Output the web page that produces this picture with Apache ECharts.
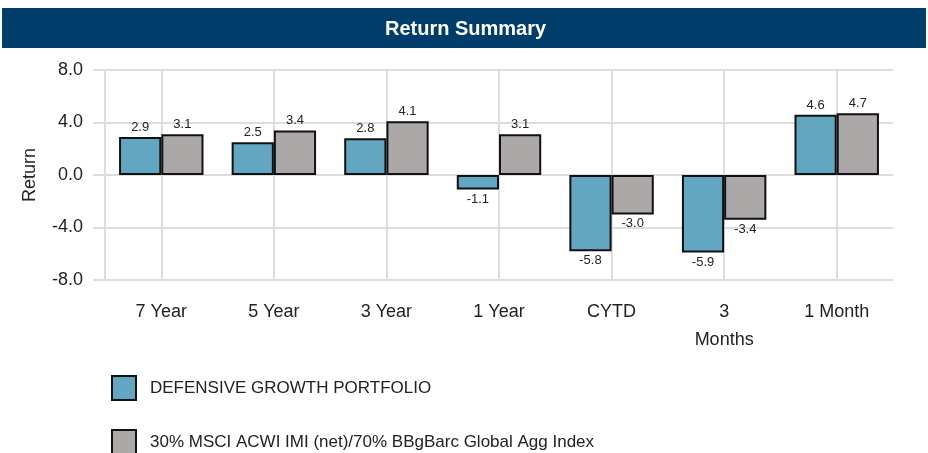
<!DOCTYPE html>
<html><head><meta charset="utf-8">
<script src="https://cdn.jsdelivr.net/npm/echarts@6/dist/echarts.min.js"></script>
<style>html,body{margin:0;padding:0;background:#fff}#c{width:928px;height:453px}</style>
</head><body><div id="c"></div>
<script>
const categories = ['7 Year', '5 Year', '3 Year', '1 Year', 'CYTD', '3\nMonths', '1 Month'];
const portfolio = [2.9, 2.5, 2.8, -1.1, -5.8, -5.9, 4.6];
const benchmark = [3.1, 3.4, 4.1, 3.1, -3.0, -3.4, 4.7];
const seriesNames = ['DEFENSIVE GROWTH PORTFOLIO', '30% MSCI ACWI IMI (net)/70% BBgBarc Global Agg Index'];
const yTicks = [-8, -4, 0, 4, 8];

const FONT = 'Liberation Sans, Arial, sans-serif';
const chart = echarts.init(document.getElementById('c'), null, {renderer: 'canvas'});
const labelCfg = {
  show: true, fontSize: 13, color: '#222', fontFamily: FONT,
  formatter: p => p.value.toFixed(1), distance: 3
};
function mk(name, data, color) {
  return {
    name, type: 'bar', data: data.map(v => ({value: v, label: {position: v >= 0 ? 'top' : 'bottom'}})),
    barGap: '0%', barCategoryGap: '25%',
    itemStyle: {color, borderColor: '#111', borderWidth: 2},
    label: labelCfg
  };
}
function leg(name, top) {
  return {
    left: 106, top, itemWidth: 24, itemHeight: 24, icon: 'rect', itemGap: 0,
    textStyle: {fontSize: 17, color: '#222', fontFamily: FONT, padding: [0, 0, 0, 9]},
    data: [{name, itemStyle: {borderColor: '#111', borderWidth: 2}}]
  };
}
chart.setOption({
  animation: false,
  graphic: [
    {type: 'rect', shape: {x: 2, y: 8, width: 924, height: 40}, style: {fill: '#003d6a'}},
    {type: 'text', left: 385, top: 19, style: {text: 'Return Summary', fill: '#fff', font: 'bold 20px ' + FONT}}
  ],
  grid: {left: 105, right: 35, top: 70, height: 210},
  legend: [leg(seriesNames[0], 370), leg(seriesNames[1], 424)],
  xAxis: {
    type: 'category', data: categories,
    axisLine: {show: false},
    axisTick: {show: true, alignWithLabel: true, length: 12, lineStyle: {color: '#ddd', width: 2}},
    splitLine: {show: true, alignWithLabel: true, lineStyle: {color: '#ddd', width: 2}},
    axisLabel: {fontSize: 18, color: '#222', fontFamily: FONT, margin: 18, lineHeight: 28}
  },
  yAxis: {
    type: 'value', min: -8, max: 8, interval: 4,
    name: 'Return', nameLocation: 'middle', nameGap: 66, nameRotate: 90,
    nameTextStyle: {fontSize: 18, color: '#222', fontFamily: FONT},
    axisLine: {show: true, lineStyle: {color: '#ddd', width: 2}},
    axisTick: {show: true, length: 12, lineStyle: {color: '#ddd', width: 2}},
    splitLine: {show: true, lineStyle: {color: '#ddd', width: 2}},
    axisLabel: {fontSize: 18, color: '#222', fontFamily: FONT, margin: 22, formatter: v => v.toFixed(1)}
  },
  series: [mk(seriesNames[0], portfolio, '#63a6c2'), mk(seriesNames[1], benchmark, '#aca8a7')]
});
</script></body></html>
